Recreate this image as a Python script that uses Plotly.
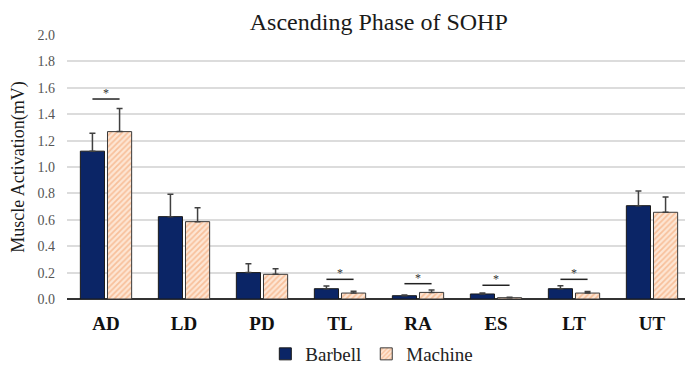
import plotly.graph_objects as go

categories = ["AD", "LD", "PD", "TL", "RA", "ES", "LT", "UT"]
barbell = [1.12, 0.624, 0.20, 0.078, 0.025, 0.038, 0.078, 0.707]
barbell_err = [0.135, 0.17, 0.067, 0.02, 0.006, 0.008, 0.022, 0.112]
machine = [1.268, 0.586, 0.187, 0.045, 0.05, 0.01, 0.045, 0.657]
machine_err = [0.176, 0.105, 0.043, 0.013, 0.018, 0.004, 0.012, 0.116]
sig_categories = ["AD", "TL", "RA", "ES", "LT"]
sig_heights = [1.515, 0.149, 0.116, 0.104, 0.149]
y_ticks = [0.0, 0.2, 0.4, 0.6, 0.8, 1.0, 1.2, 1.4, 1.6, 1.8, 2.0]

serif = "Liberation Serif"
xpos = list(range(len(categories)))
half = 0.174

fig = go.Figure()
fig.add_trace(go.Bar(
    x=xpos, y=barbell, name="Barbell",
    marker=dict(color="#0b2566", line=dict(color="#1a1a1a", width=1)),
    error_y=dict(type="data", array=barbell_err, arrayminus=[0]*len(barbell),
                 symmetric=False, color="#404040", thickness=1.5, width=3),
))
fig.add_trace(go.Bar(
    x=xpos, y=machine, name="Machine",
    marker=dict(color="#fde6d6", line=dict(color="#3a3a3a", width=1),
                pattern=dict(shape="/", fgcolor="#f29a62", bgcolor="#fde6d4",
                             size=4, solidity=0.45)),
    error_y=dict(type="data", array=machine_err, arrayminus=[0]*len(machine),
                 symmetric=False, color="#404040", thickness=1.5, width=3),
))

for cat, h in zip(sig_categories, sig_heights):
    i = categories.index(cat)
    fig.add_trace(go.Scatter(
        x=[i - half, i + half], y=[h, h], mode="lines",
        line=dict(color="#222222", width=1.5), showlegend=False, hoverinfo="skip"))
    fig.add_annotation(x=i, y=h, text="*", showarrow=False, yanchor="bottom",
                       yshift=-3, font=dict(family=serif, size=12, color="#333333"))

fig.update_layout(
    width=693, height=365,
    margin=dict(l=59, r=10, t=27, b=74, autoexpand=False),
    paper_bgcolor="white", plot_bgcolor="white",
    barmode="group", bargap=0.304, bargroupgap=0.11,
    title=dict(text="Ascending Phase of SOHP", x=0.535, xanchor="center",
               y=0.985, yanchor="top", yref="container", pad=dict(t=0),
               font=dict(family=serif, size=24, color="#1a1a1a")),
    font=dict(family=serif),
    showlegend=True,
    legend=dict(orientation="h", x=0.525, xanchor="center", y=0.0, yanchor="bottom",
                yref="container", xref="container",
                font=dict(family=serif, size=19, color="#222222"),
                itemwidth=30, traceorder="normal"),
    xaxis=dict(tickmode="array", tickvals=xpos, ticktext=categories,
               range=[-0.5, len(categories) - 0.5], showgrid=False, automargin=False,
               tickfont=dict(family=serif, size=19, color="#111111", weight="bold"),
               ticks="", showline=False, zeroline=False, ticklabelstandoff=11),
    yaxis=dict(range=[0, 2.0], tickmode="array", tickvals=y_ticks, automargin=False,
               ticktext=[f"{v:.1f}" for v in y_ticks],
               tickfont=dict(family=serif, size=14, color="#555555"),
               showgrid=True, gridcolor="#dcdcdc", gridwidth=1.5,
               zeroline=True, zerolinecolor="#333333", zerolinewidth=2,
               title=dict(text="Muscle Activation(mV)",
                          font=dict(family=serif, size=18, color="#1a1a1a"),
                          standoff=14),
               ticklabelstandoff=11),
)

fig.write_html("out.html")
